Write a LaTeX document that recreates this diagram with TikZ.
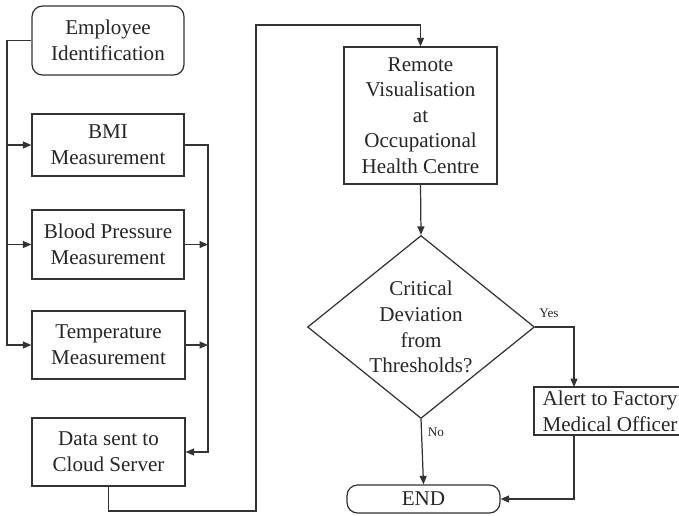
\documentclass[tikz,border=0pt]{standalone}
\usepackage{fontspec}
\setmainfont{Liberation Serif}
\usepackage{tikz}
\usetikzlibrary{arrows.meta,shapes.geometric}
\definecolor{ink}{HTML}{333333}
\definecolor{type}{HTML}{262626}
\tikzset{stage/.style={draw=ink,line width=0.7pt,align=center,text=type,font=\fontsize{12}{14.6}\selectfont,minimum width=3.04cm,inner sep=2pt}, terminal/.style={stage,rounded corners=6pt}, query/.style={draw=ink,line width=0.7pt,diamond,inner sep=0pt,minimum width=4.54cm,minimum height=3.66cm}, flow/.style={-{Triangle[length=1.7mm,width=1.4mm]},line width=0.7pt,draw=ink}, rel/.style={font=\fontsize{7.5}{9}\selectfont,text=type,inner sep=1pt}}

\begin{document}
\begin{tikzpicture}[x=0.02cm,y=-0.02cm]
\useasboundingbox (0,0) rectangle (679,515);
% data capture column
\node[terminal,minimum height=1.38cm] (emp) at (108,40.5) {Employee\\Identification};
\node[stage,minimum height=1.24cm] (bmi) at (108,145) {BMI\\Measurement};
\node[stage,minimum height=1.38cm] (bp) at (108,244.5) {Blood Pressure\\Measurement};
\node[stage,minimum height=1.36cm,minimum width=3.06cm] (temp) at (108.5,345) {Temperature\\Measurement};
\node[stage,minimum height=1.36cm,minimum width=3.06cm] (data) at (108.5,452) {Data sent to\\Cloud Server};
% monitoring side
\node[stage,minimum height=2.74cm,minimum width=3.06cm] (remote) at (420.5,115.5) {Remote\\Visualisation\\at\\Occupational\\Health Centre};
\node[query] (dec) at (421,327) {};
\node[align=center,text=type,font=\fontsize{12}{14.6}\selectfont] (dectext) at (dec) {Critical\\Deviation\\from\\Thresholds?};
\node[stage,minimum height=0.96cm] (alert) at (610,411) {Alert to Factory\\Medical Officer};
\node[terminal,minimum height=0.56cm,minimum width=3.06cm] (end) at (423.5,499) {END};
\node[rel] (yes) at (549,313) {Yes};
\node[rel] (no) at (436,432) {No};
% bends of the connectors
\coordinate (lbus) at (7,40.5);
\coordinate (rbus) at (208,145);
\coordinate (c1) at (256,511);
\coordinate (c2) at (256,25);
\coordinate (ya) at (574,387);
\coordinate (ab) at (574,435);
\draw[flow] (emp.west) -- (lbus) |- (temp.west);
\draw[flow] (lbus |- bmi.west) -- (bmi.west);
\draw[flow] (lbus |- bp.west) -- (bp.west);
\draw[flow] (bmi.east) -- (rbus) |- (data.east);
\draw[flow] (bp.east) -- (bp.east -| rbus);
\draw[flow] (temp.east) -- (temp.east -| rbus);
\draw[flow] (data.south) |- (c1) -- (c2) -| (remote.north);
\draw[flow] (remote.south) -- (dec.north);
\draw[flow] (dec.east) -| (ya);
\draw[flow] (dec.south) -- (end.north);
\draw[flow] (ab) |- (end.east);
\end{tikzpicture}
\end{document}
